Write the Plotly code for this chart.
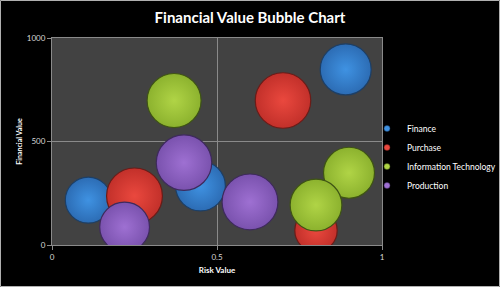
import plotly.graph_objects as go

series = ["Finance", "Purchase", "Information Technology", "Production"]
risk = {
    "Finance": [0.11, 0.45, 0.89],
    "Purchase": [0.25, 0.70, 0.80],
    "Information Technology": [0.37, 0.90, 0.80],
    "Production": [0.22, 0.40, 0.60],
}
financial = {
    "Finance": [217, 285, 848],
    "Purchase": [237, 698, 70],
    "Information Technology": [698, 349, 193],
    "Production": [87, 398, 208],
}
bubble = {
    "Finance": [53, 62, 65],
    "Purchase": [78, 77, 45],
    "Information Technology": [73, 65, 67],
    "Production": [62, 77, 78],
}
x_ticks = [0, 0.5, 1]
x_tick_labels = ["0", "0.5", "1"]
y_ticks = [0, 500, 1000]
y_tick_labels = ["0", "500", "1000"]

fill = {
    "Finance": ("#3f92e2", "#2c6cb4", "#1d3f66"),
    "Purchase": ("#ea483e", "#c2302a", "#6a1c18"),
    "Information Technology": ("#b0d446", "#8cb22e", "#3f5414"),
    "Production": ("#9e70d2", "#7a52ae", "#3e2a5c"),
}

W, H = 500, 287
ml, mr, mt, mb = 52, 118, 38, 42
pw, ph = W - ml - mr, H - mt - mb

fig = go.Figure()
for s in series:
    c_center, c_edge, c_line = fill[s]
    fig.add_trace(go.Scatter(
        x=risk[s], y=financial[s], mode="markers", name=s, showlegend=False,
        marker=dict(size=bubble[s], sizemode="area", sizeref=0.05,
                    color=c_edge, opacity=1,
                    gradient=dict(type="radial", color=c_center),
                    line=dict(color=c_line, width=1.2)),
        cliponaxis=True,
    ))
for s in series:
    c_center, c_edge, c_line = fill[s]
    fig.add_trace(go.Scatter(
        x=[None], y=[None], mode="markers", name=s, showlegend=True,
        marker=dict(size=6, color=c_center, line=dict(color=c_line, width=0.5)),
    ))

fig.update_layout(
    width=W, height=H,
    margin=dict(l=ml, r=mr, t=mt, b=mb, autoexpand=False),
    paper_bgcolor="#000000",
    plot_bgcolor="#424242",
    font=dict(family="Lato", color="#ffffff"),
    title=dict(text="<b>Financial Value Bubble Chart</b>", x=0.5, xanchor="center",
               y=1 - 18 / H, yanchor="middle",
               font=dict(size=15, color="#ffffff", family="Lato")),
    showlegend=True,
    legend=dict(x=(367 - ml) / pw, xanchor="left", y=(245 - 157) / ph, yanchor="middle",
                bgcolor="rgba(0,0,0,0)", font=dict(size=8.5, color="#ffffff"),
                itemsizing="trace", tracegroupgap=0),
    xaxis=dict(range=[0, 1], tickvals=x_ticks, ticktext=x_tick_labels,
               showgrid=True, gridcolor="#8a8a8a", gridwidth=1,
               zeroline=False, showline=True, linecolor="#8a8a8a", mirror=True,
               ticks="outside", ticklen=4, tickcolor="#8a8a8a",
               tickfont=dict(size=8, color="#d8d8d8"),
               title=dict(text="<b>Risk Value</b>", font=dict(size=8, color="#ffffff"), standoff=6)),
    yaxis=dict(range=[0, 1000], tickvals=y_ticks, ticktext=y_tick_labels,
               showgrid=True, gridcolor="#8a8a8a", gridwidth=1,
               zeroline=False, showline=True, linecolor="#8a8a8a", mirror=True,
               ticks="outside", ticklen=4, tickcolor="#8a8a8a",
               tickfont=dict(size=8, color="#d8d8d8"),
               title=dict(text="<b>Financial Value</b>", font=dict(size=7, color="#ffffff"), standoff=3)),
    shapes=[dict(type="rect", xref="paper", yref="paper",
                 x0=(0.5 - ml) / pw, x1=(W - 0.5 - ml) / pw,
                 y0=-(mb - 0.5) / ph, y1=(H - mb - 0.5) / ph,
                 line=dict(color="#b0b0b0", width=1), layer="below")],
)

fig.write_html("out.html")
